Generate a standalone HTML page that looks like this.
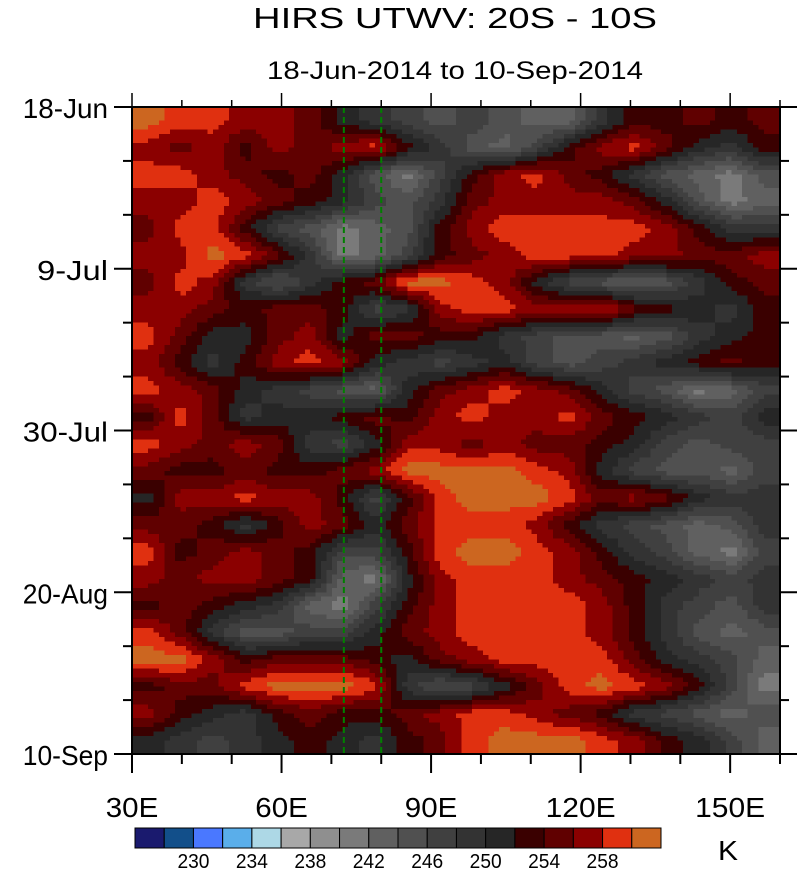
<!DOCTYPE html>
<html><head><meta charset="utf-8"><style>
html,body{margin:0;padding:0;background:#fff;width:799px;height:869px;overflow:hidden}
svg{display:block}
text{font-family:"Liberation Sans",sans-serif;fill:#000}
</style></head><body>
<svg id="chart" width="799" height="869" viewBox="0 0 799 869" xmlns="http://www.w3.org/2000/svg">
<text x="253" y="28" font-size="29" textLength="404" lengthAdjust="spacingAndGlyphs">HIRS UTWV: 20S - 10S</text>
<text x="267" y="79" font-size="25" textLength="376" lengthAdjust="spacingAndGlyphs">18-Jun-2014 to 10-Sep-2014</text>
<g id="cells" shape-rendering="crispEdges"></g>
<g id="refs"></g>
<rect x="132" y="107" width="648" height="647" fill="none" stroke="#000" stroke-width="2"/>
<g id="axes"></g>
<g id="cbar"></g>
<text x="718" y="860" font-size="28" textLength="20" lengthAdjust="spacingAndGlyphs">K</text>
</svg>
<script>
const lonStart = 30, lonEnd = 160;
const dayCount = 84;
const xTickLabels = ["30E","60E","90E","120E","150E"];
const xTickValues = [30,60,90,120,150];
const yTickLabels = ["18-Jun","9-Jul","30-Jul","20-Aug","10-Sep"];
const yTickDays = [0,21,42,63,84];
const refLons = [72.5, 80];
const levels = [228,230,232,234,236,238,240,242,244,246,248,250,252,254,256,258,260];
const levelLabels = ["230","234","238","242","246","250","254","258"];
const fillColors = ["#1a1a6e","#124f8a","#4a78ff","#5aaeea","#add8e6","#a8a8a8","#8f8f8f","#7a7a7a","#606060","#505050","#404040","#333333","#262626","#3a0000","#600000","#8b0000","#e03010","#cc6620"];
const field = [
[261,259,259,257,257,255,251,249,247,245,247,245,243,243,249,253,253,255,253,255],
[257,255,257,253,257,255,257,259,253,249,245,243,247,253,257,259,255,251,249,253],
[259,259,257,255,253,255,251,245,241,247,253,257,259,255,253,249,245,243,241,245],
[257,257,259,257,255,253,251,247,245,249,255,257,257,257,257,255,251,245,241,243],
[255,259,259,253,247,245,241,243,245,253,257,259,259,259,259,259,257,253,249,249],
[257,257,261,259,255,249,241,243,247,253,255,257,259,259,259,257,257,255,255,257],
[255,259,257,249,245,249,253,255,261,261,259,257,251,247,245,243,245,249,253,255],
[257,257,255,253,255,255,253,247,249,257,259,259,257,257,259,255,253,251,249,253],
[259,255,251,251,255,257,251,255,255,253,253,249,247,245,245,243,245,249,251,253],
[257,253,249,253,257,259,257,251,249,247,249,251,247,245,247,249,251,253,255,253],
[259,257,255,251,249,247,245,243,251,255,257,259,257,255,251,247,245,241,243,247],
[253,259,255,249,251,251,253,255,253,257,259,257,257,259,255,253,251,249,247,251],
[259,257,255,257,255,249,247,251,257,257,255,257,255,255,253,251,247,245,247,247],
[255,253,253,255,253,253,255,257,261,261,261,261,259,257,251,247,245,245,243,247],
[251,257,257,259,257,257,253,247,253,259,261,261,261,259,255,257,255,251,249,249],
[255,255,253,249,253,257,255,251,255,259,259,259,257,253,249,247,245,243,245,249],
[259,253,255,257,255,253,247,247,253,259,261,261,259,257,253,249,247,243,241,247],
[257,255,257,257,255,253,243,241,251,257,259,259,259,257,255,253,251,249,247,249],
[253,255,253,251,249,243,241,247,253,257,259,259,259,259,257,253,249,247,245,249],
[259,255,249,245,245,247,247,251,255,257,259,259,259,259,257,253,249,245,243,245],
[261,261,257,253,255,255,255,253,251,255,257,259,259,259,259,255,251,249,247,243],
[253,255,255,259,261,261,261,259,249,245,247,251,255,259,261,259,257,253,247,241],
[257,253,251,249,253,255,253,253,255,257,259,259,257,255,253,249,247,245,243,245],
[251,249,247,249,251,253,251,249,253,255,259,261,261,261,259,257,253,251,247,243]
];
const NS="http://www.w3.org/2000/svg";
const X0=132,X1=780,Y0=107,Y1=754;
function xScale(lon){return X0+(lon-lonStart)/(lonEnd-lonStart)*(X1-X0);}
function yScale(day){return Y0+day/dayCount*(Y1-Y0);}
function colorFor(v){let k=0;while(k<levels.length&&v>=levels[k])k++;return fillColors[k];}
function mk(tag,attrs,parent){const e=document.createElementNS(NS,tag);for(const a in attrs)e.setAttribute(a,attrs[a]);parent.appendChild(e);return e;}
const cells=document.getElementById('cells');
const nr=field.length,nc=field[0].length;
function sample(fi,fj){
  fi=Math.max(0,Math.min(nr-1,fi));fj=Math.max(0,Math.min(nc-1,fj));
  const i0=Math.floor(fi),j0=Math.floor(fj),i1=Math.min(nr-1,i0+1),j1=Math.min(nc-1,j0+1);
  const a=fi-i0,b=fj-j0;
  return (1-a)*((1-b)*field[i0][j0]+b*field[i0][j1])+a*((1-b)*field[i1][j0]+b*field[i1][j1]);
}
const SUB=6;
const fr=nr*SUB,fc=nc*SUB;
for(let i=0;i<fr;i++){
  const day0=i/fr*dayCount,day1=(i+1)/fr*dayCount;
  const y=yScale(day0),h=yScale(day1)-y+0.6;
  const fi=(i+0.5)/SUB-0.5;
  let runStart=0,runColor=null;
  for(let j=0;j<=fc;j++){
    const c=j<fc?colorFor(sample(fi,(j+0.5)/SUB-0.5)):null;
    if(c!==runColor){
      if(runColor!==null){
        const xa=xScale(lonStart+runStart/fc*(lonEnd-lonStart)),xb=xScale(lonStart+j/fc*(lonEnd-lonStart));
        const r=mk('rect',{x:xa,y:y,width:xb-xa+0.6,height:h,fill:runColor},cells);
        
        
      }
      runColor=c;runStart=j;
    }
  }
}
const refs=document.getElementById('refs');
refLons.forEach(l=>{
  const ln=mk('line',{x1:xScale(l),x2:xScale(l),y1:Y0,y2:Y1,stroke:'#008000','stroke-width':2,'stroke-dasharray':'6,4'},refs);
  
  
});
const axes=document.getElementById('axes');
for(let lon=30;lon<=160;lon+=10){
  const x=xScale(lon),major=xTickValues.includes(lon);
  const t1=mk('line',{x1:x,x2:x,y1:Y1,y2:Y1+(major?19:10),stroke:'#000','stroke-width':2},axes);
  
  
  const t2=mk('line',{x1:x,x2:x,y1:Y0,y2:Y0-(major?14:7),stroke:'#000','stroke-width':1.5},axes);
  
  
}
xTickValues.forEach((v,i)=>{
  const s=xTickLabels[i];
  const w=s.length*17.5;
  const t=mk('text',{x:xScale(v)-w/2,y:817,'font-size':28,textLength:w,lengthAdjust:'spacingAndGlyphs'},axes);
  t.textContent=s;
  
  
});
for(let d=0;d<=dayCount;d+=7){
  const y=yScale(d),major=yTickDays.includes(d);
  const a=mk('line',{x1:X0,x2:X0-(major?18:9),y1:y,y2:y,stroke:'#000','stroke-width':2},axes);
  
  
  const b=mk('line',{x1:X1,x2:X1+(major?17:9),y1:y,y2:y,stroke:'#000','stroke-width':2},axes);
  
  
}
yTickDays.forEach((d,i)=>{
  const s=yTickLabels[i];
  const w=s.length*14.2;
  const t=mk('text',{x:108-w,y:yScale(d)+11,'font-size':28,textLength:w,lengthAdjust:'spacingAndGlyphs'},axes);
  t.textContent=s;
  
  
});
const cbar=document.getElementById('cbar');
const CX0=135,CX1=661,CY=828,CH=20,bw=(CX1-CX0)/fillColors.length;
fillColors.forEach((c,i)=>{
  const r=mk('rect',{x:CX0+i*bw,y:CY,width:bw,height:CH,fill:c,stroke:'#000','stroke-width':1},cbar);
  
  
});
levelLabels.forEach((s,i)=>{
  const idx=levels.indexOf(+s);
  const x=CX0+(idx+1)*bw;
  const t=mk('text',{x:x-16,y:868,'font-size':20,textLength:32,lengthAdjust:'spacingAndGlyphs'},cbar);
  t.textContent=s;
  
  
});
</script>
</body></html>
